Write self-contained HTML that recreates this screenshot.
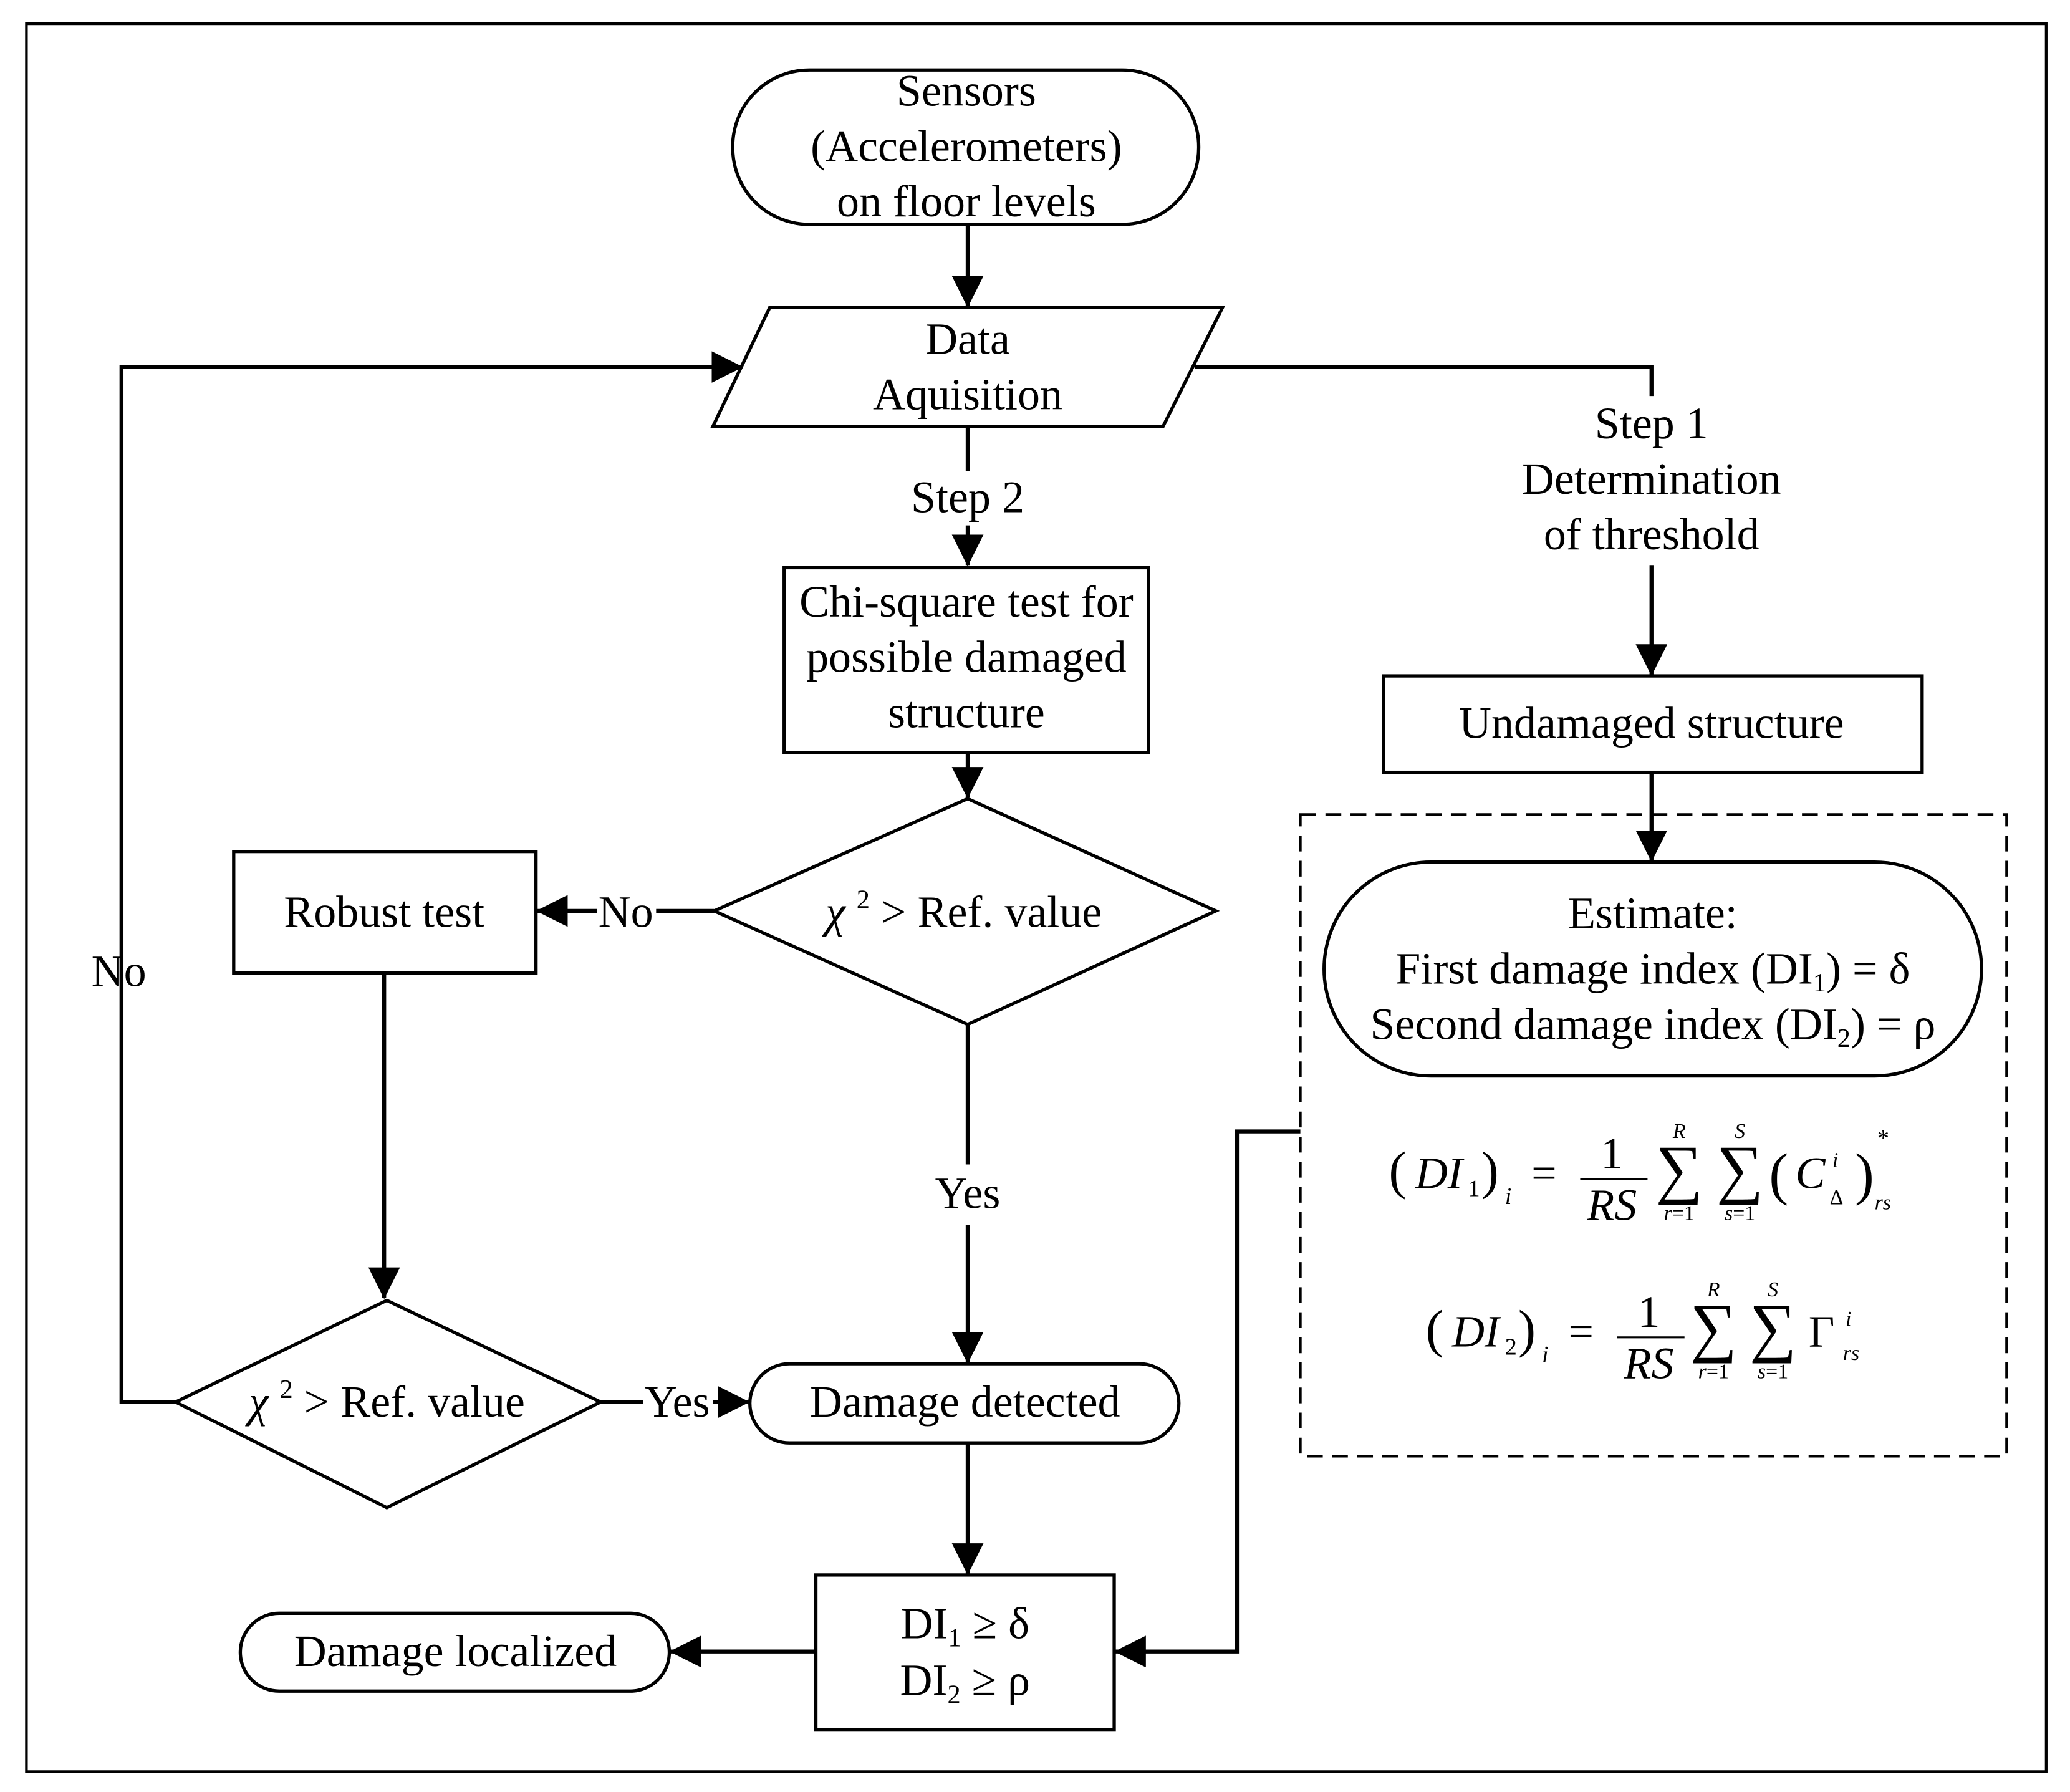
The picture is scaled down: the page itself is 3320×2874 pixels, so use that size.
<!DOCTYPE html>
<html><head><meta charset="utf-8"><style>
html,body{margin:0;padding:0;background:#fff}
svg{display:block;font-family:"Liberation Serif",serif;font-size:34px}
text{fill:#000}
.it{font-style:italic}
</style></head><body>
<svg width="3320" height="2874" viewBox="0 0 1568 1357.4" xmlns="http://www.w3.org/2000/svg">
<defs><marker id="b" markerWidth="24" markerHeight="24" refX="23" refY="12" orient="auto" markerUnits="userSpaceOnUse" viewBox="0 0 24 24"><path d="M0,0 L24,12 L0,24 z" fill="#000"/></marker></defs>
<rect x="20" y="18" width="1530" height="1324" fill="none" stroke="#000" stroke-width="2"/>
<g fill="none" stroke="#000" stroke-width="2.5">
<rect x="555" y="53" width="353" height="117" rx="58"/>
<polygon points="583,233 926,233 881,323 540,323"/>
<rect x="594" y="430" width="276" height="140"/>
<polygon points="733,605 921,690 733,776 541,690"/>
<rect x="177" y="645" width="229" height="92"/>
<polygon points="293,985 455,1062 293,1142 133,1062"/>
<rect x="568" y="1033" width="325" height="60" rx="30"/>
<rect x="618" y="1193" width="226" height="117"/>
<rect x="182" y="1222" width="325" height="59" rx="29.5"/>
<rect x="1048" y="512" width="408" height="73"/>
<rect x="1003" y="653" width="498" height="162" rx="81"/>
<rect x="985" y="617" width="535" height="486" stroke-dasharray="12,7" stroke-width="2"/>
</g>
<g fill="none" stroke="#000" stroke-width="3">
<line x1="733" y1="170" x2="733" y2="232" marker-end="url(#b)"/>
<line x1="733" y1="323" x2="733" y2="357"/>
<line x1="733" y1="398" x2="733" y2="428" marker-end="url(#b)"/>
<line x1="733" y1="570" x2="733" y2="604" marker-end="url(#b)"/>
<line x1="541" y1="690" x2="497" y2="690"/>
<line x1="452" y1="690" x2="407" y2="690" marker-end="url(#b)"/>
<line x1="291" y1="737" x2="291" y2="983" marker-end="url(#b)"/>
<line x1="455" y1="1062" x2="487" y2="1062"/>
<line x1="540" y1="1062" x2="567" y2="1062" marker-end="url(#b)"/>
<line x1="733" y1="776" x2="733" y2="882"/>
<line x1="733" y1="928" x2="733" y2="1032" marker-end="url(#b)"/>
<line x1="733" y1="1093" x2="733" y2="1192" marker-end="url(#b)"/>
<line x1="618" y1="1251" x2="508" y2="1251" marker-end="url(#b)"/>
<polyline points="133,1062 92,1062 92,278 562,278" marker-end="url(#b)"/>
<polyline points="905,278 1251,278 1251,300"/>
<line x1="1251" y1="428" x2="1251" y2="511" marker-end="url(#b)"/>
<line x1="1251" y1="585" x2="1251" y2="652" marker-end="url(#b)"/>
<polyline points="985,857 937,857 937,1251 845,1251" marker-end="url(#b)"/>
</g>
<g text-anchor="middle">
<text x="732" y="80">Sensors</text>
<text x="732" y="122">(Accelerometers)</text>
<text x="732" y="164">on floor levels</text>
<text x="733" y="268">Data</text>
<text x="733" y="310">Aquisition</text>
<text x="733" y="388">Step 2</text>
<text x="732" y="467">Chi-square test for</text>
<text x="732" y="509">possible damaged</text>
<text x="732" y="551">structure</text>
<text x="730" y="702"><tspan class="it">χ</tspan> <tspan font-size="20" dy="-14">2</tspan><tspan dy="14"> &gt; Ref. value</tspan></text>
<text x="474" y="702">No</text>
<text x="291" y="702">Robust test</text>
<text x="90" y="747">No</text>
<text x="293" y="1073"><tspan class="it">χ</tspan> <tspan font-size="20" dy="-14">2</tspan><tspan dy="14"> &gt; Ref. value</tspan></text>
<text x="513" y="1073">Yes</text>
<text x="731" y="1073">Damage detected</text>
<text x="733" y="915">Yes</text>
<text x="731" y="1241">DI<tspan font-size="20" dy="6">1</tspan><tspan dy="-6"> ≥ δ</tspan></text>
<text x="731" y="1284">DI<tspan font-size="20" dy="6">2</tspan><tspan dy="-6"> ≥ ρ</tspan></text>
<text x="345" y="1262">Damage localized</text>
<text x="1251" y="332">Step 1</text>
<text x="1251" y="374">Determination</text>
<text x="1251" y="416">of threshold</text>
<text x="1251" y="559">Undamaged structure</text>
<text x="1252" y="703">Estimate:</text>
<text x="1252" y="745">First damage index (DI<tspan font-size="20" dy="6">1</tspan><tspan dy="-6">) = δ</tspan></text>
<text x="1252" y="787">Second damage index (DI<tspan font-size="20" dy="6">2</tspan><tspan dy="-6">) = ρ</tspan></text>
</g>
<g>
<text x="1052" y="900" font-size="40">(</text>
<text x="1072" y="900" class="it">DI</text><text x="1112" y="906" font-size="18">1</text>
<text x="1122" y="900" font-size="40">)</text><text x="1140" y="912" font-size="18" class="it">i</text>
<text x="1160" y="900">=</text>
<text x="1221" y="885" text-anchor="middle">1</text>
<line x1="1197" y1="893" x2="1248" y2="893" stroke="#000" stroke-width="1.5"/>
<text x="1221" y="924" text-anchor="middle" class="it">RS</text>
<text x="1272" y="902" text-anchor="middle" font-size="50">∑</text>
<text x="1272" y="862" text-anchor="middle" font-size="16" class="it">R</text>
<text x="1272" y="924" text-anchor="middle" font-size="16"><tspan class="it">r</tspan>=1</text>
<text x="1318" y="902" text-anchor="middle" font-size="50">∑</text>
<text x="1318" y="862" text-anchor="middle" font-size="16" class="it">S</text>
<text x="1318" y="924" text-anchor="middle" font-size="16"><tspan class="it">s</tspan>=1</text>
<text x="1340" y="904" font-size="44">(</text>
<text x="1360" y="900" class="it">C</text>
<text x="1388" y="884" font-size="16" class="it">i</text>
<text x="1386" y="912" font-size="16">Δ</text>
<text x="1405" y="904" font-size="44">)</text>
<text x="1422" y="868" font-size="18">*</text>
<text x="1420" y="916" font-size="16" class="it">rs</text>
</g>
<g>
<text x="1080" y="1020" font-size="40">(</text>
<text x="1100" y="1020" class="it">DI</text><text x="1140" y="1026" font-size="18">2</text>
<text x="1150" y="1020" font-size="40">)</text><text x="1168" y="1032" font-size="18" class="it">i</text>
<text x="1188" y="1020">=</text>
<text x="1249" y="1005" text-anchor="middle">1</text>
<line x1="1225" y1="1013" x2="1276" y2="1013" stroke="#000" stroke-width="1.5"/>
<text x="1249" y="1044" text-anchor="middle" class="it">RS</text>
<text x="1298" y="1022" text-anchor="middle" font-size="50">∑</text>
<text x="1298" y="982" text-anchor="middle" font-size="16" class="it">R</text>
<text x="1298" y="1044" text-anchor="middle" font-size="16"><tspan class="it">r</tspan>=1</text>
<text x="1343" y="1022" text-anchor="middle" font-size="50">∑</text>
<text x="1343" y="982" text-anchor="middle" font-size="16" class="it">S</text>
<text x="1343" y="1044" text-anchor="middle" font-size="16"><tspan class="it">s</tspan>=1</text>
<text x="1370" y="1020">Γ</text>
<text x="1398" y="1004" font-size="16" class="it">i</text>
<text x="1396" y="1030" font-size="16" class="it">rs</text>
</g>
</svg>
</body></html>
